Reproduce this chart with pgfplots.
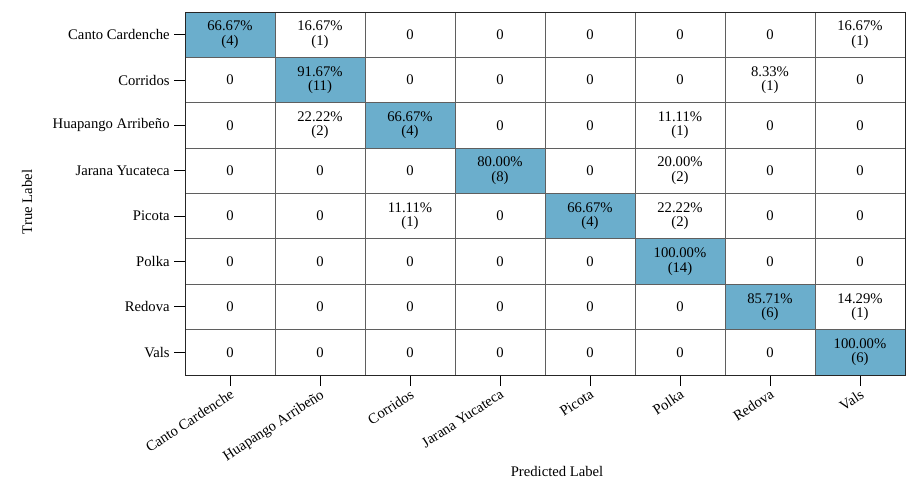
\documentclass[border=0pt]{standalone}
\usepackage{pgfplots}
\pgfplotsset{compat=1.18}
\usepackage{pgfplotstable}
\usepackage{fontspec}
\setmainfont{Liberation Serif}
\definecolor{cellblue}{RGB}{107,174,204}
\definecolor{gridgray}{RGB}{95,95,95}

% x y diag pct count  (y=0 is the bottom row "Vals")
\pgfplotstableread{
x y d p c
0 0 0 0 0
1 0 0 0 0
2 0 0 0 0
3 0 0 0 0
4 0 0 0 0
5 0 0 0 0
6 0 0 0 0
7 0 1 100.00 6
0 1 0 0 0
1 1 0 0 0
2 1 0 0 0
3 1 0 0 0
4 1 0 0 0
5 1 0 0 0
6 1 1 85.71 6
7 1 0 14.29 1
0 2 0 0 0
1 2 0 0 0
2 2 0 0 0
3 2 0 0 0
4 2 0 0 0
5 2 1 100.00 14
6 2 0 0 0
7 2 0 0 0
0 3 0 0 0
1 3 0 0 0
2 3 0 11.11 1
3 3 0 0 0
4 3 1 66.67 4
5 3 0 22.22 2
6 3 0 0 0
7 3 0 0 0
0 4 0 0 0
1 4 0 0 0
2 4 0 0 0
3 4 1 80.00 8
4 4 0 0 0
5 4 0 20.00 2
6 4 0 0 0
7 4 0 0 0
0 5 0 0 0
1 5 0 22.22 2
2 5 1 66.67 4
3 5 0 0 0
4 5 0 0 0
5 5 0 11.11 1
6 5 0 0 0
7 5 0 0 0
0 6 0 0 0
1 6 1 91.67 11
2 6 0 0 0
3 6 0 0 0
4 6 0 0 0
5 6 0 0 0
6 6 0 8.33 1
7 6 0 0 0
0 7 1 66.67 4
1 7 0 16.67 1
2 7 0 0 0
3 7 0 0 0
4 7 0 0 0
5 7 0 0 0
6 7 0 0 0
7 7 0 16.67 1
}\cmtable

\begin{document}
\begin{tikzpicture}
\useasboundingbox (-138.75pt,-90.75pt) rectangle (549.75pt,281.25pt);
\begin{axis}[
    at={(0,0)}, anchor=south west,
    scale only axis, width=540pt, height=272.25pt,
    xmin=-0.5, xmax=7.5, ymin=-0.5, ymax=7.5,
    xtick={0,...,7}, ytick={0,...,7},
    xticklabels={Canto Cardenche,Huapango Arribeño,Corridos,Jarana Yucateca,Picota,Polka,Redova,Vals},
    yticklabels={Vals,Redova,Polka,Picota,Jarana Yucateca,Huapango Arribeño,Corridos,Canto Cardenche},
    xtick pos=bottom, ytick pos=left,
    tick align=outside, major tick length=8pt,
    tick style={black, line width=0.7pt},
    axis line style={black!85, line width=0.6pt},
    axis on top,
    font=\fontsize{11}{13}\selectfont,
    tick label style={font=\fontsize{11}{13}\selectfont},
    x tick label style={rotate=33, anchor=north east, inner sep=1.5pt},
    xlabel={Predicted Label}, ylabel={True Label},
    xlabel style={at={(axis description cs:0.5167,-0.2645)}, anchor=center},
    ylabel style={at={(axis description cs:-0.2194,0.4766)}, anchor=center},
    colormap={cm}{color=(white) color=(cellblue)},
    point meta min=0, point meta max=1,
  ]
  \addplot[matrix plot*, mesh/cols=8, point meta=explicit,
    draw=gridgray, line width=0.6pt] table[x=x, y=y, meta=d] {\cmtable};
  \addplot[draw=none, mark=none,
    visualization depends on={\thisrow{p} \as \pct},
    visualization depends on={\thisrow{c} \as \cnt},
    nodes near coords={\pgfmathtruncatemacro\n{\cnt}\ifnum\n=0 0\else\shortstack{\pgfmathprintnumber[fixed,fixed zerofill,precision=2,assume math mode=true]{\pct}\%\\(\n)}\fi},
    every node near coord/.append style={anchor=center, text=black,
      font=\fontsize{11}{10}\selectfont, inner sep=0pt}
  ] table[x=x, y=y] {\cmtable};
\end{axis}
\end{tikzpicture}
\end{document}
